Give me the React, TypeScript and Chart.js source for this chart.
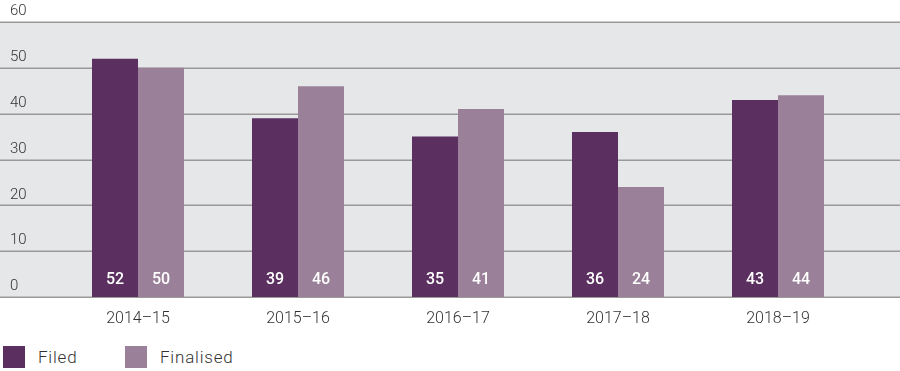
import React, { useEffect, useRef } from "react";
import { Chart, registerables } from "chart.js";

Chart.register(...registerables);

const categories = ["2014–15", "2015–16", "2016–17", "2017–18", "2018–19"];
const filed = [52, 39, 35, 36, 43];
const finalised = [50, 46, 41, 24, 44];
const yTicks = [0, 10, 20, 30, 40, 50, 60];
const seriesNames = ["Filed", "Finalised"];
const colors = ["#5b2f5f", "#9a8098"];

const FONT = "Roboto, 'Noto Sans', sans-serif";

const bgPlugin = {
  id: "bgGrid",
  beforeDraw(chart: any) {
    const { ctx, scales, width } = chart;
    const y = scales.y;
    const top = y.getPixelForValue(60);
    const bottom = y.getPixelForValue(0);
    ctx.save();
    ctx.fillStyle = "#e6e7e9";
    ctx.fillRect(0, top, width, bottom - top);
    ctx.strokeStyle = "#999999";
    ctx.lineWidth = 1.5;
    yTicks.forEach((v) => {
      const py = Math.round(y.getPixelForValue(v)) + 0.25;
      ctx.beginPath();
      ctx.moveTo(0, py);
      ctx.lineTo(width, py);
      ctx.stroke();
    });
    ctx.fillStyle = "#333333";
    ctx.font = `300 15px ${FONT}`;
    ctx.textAlign = "left";
    ctx.textBaseline = "bottom";
    yTicks.forEach((v) => {
      const py = y.getPixelForValue(v);
      ctx.fillText(String(v), 10, py - 3);
    });
    ctx.restore();
  },
  afterDatasetsDraw(chart: any) {
    const { ctx, scales } = chart;
    const y = scales.y;
    const bottom = y.getPixelForValue(0);
    ctx.save();
    ctx.fillStyle = "#ffffff";
    ctx.font = `500 16px ${FONT}`;
    ctx.textAlign = "center";
    ctx.textBaseline = "middle";
    chart.data.datasets.forEach((ds: any, i: number) => {
      const meta = chart.getDatasetMeta(i);
      meta.data.forEach((bar: any, j: number) => {
        ctx.fillText(String(ds.data[j]), bar.x, bottom - 17);
      });
    });
    ctx.restore();
  },
};

export default function App() {
  const ref = useRef<HTMLCanvasElement | null>(null);

  useEffect(() => {
    document.body.style.margin = "0";
    const chart = new Chart(ref.current as HTMLCanvasElement, {
      type: "bar",
      data: {
        labels: categories,
        datasets: [
          { label: seriesNames[0], data: filed, backgroundColor: colors[0], borderWidth: 0 },
          { label: seriesNames[1], data: finalised, backgroundColor: colors[1], borderWidth: 0 },
        ],
      },
      options: {
        animation: false,
        responsive: false,
        maintainAspectRatio: false,
        layout: { padding: { left: 58, right: 42, top: 22, bottom: 0 } },
        datasets: { bar: { categoryPercentage: 0.575, barPercentage: 1 } } as any,
        plugins: { legend: { display: false }, tooltip: { enabled: false } },
        scales: {
          y: {
            display: false,
            min: 0,
            max: 60,
          },
          x: {
            grid: { display: false, drawTicks: false },
            border: { display: false },
            ticks: { color: "#333333", font: { family: FONT, size: 16, weight: "300" as any }, padding: 12 },
            afterFit: (s: any) => {
              s.height = 38;
            },
          },
        },
      },
      plugins: [bgPlugin],
    });
    return () => chart.destroy();
  }, []);

  return (
    <div style={{ width: 900, height: 371, position: "relative", background: "#fff" }}>
      <canvas ref={ref} width={900} height={335} style={{ display: "block", width: 900, height: 335 }} />
      <div style={{ position: "absolute", top: 346, left: 3, display: "flex", alignItems: "center", fontFamily: FONT, fontSize: 17, fontWeight: 300, color: "#333" }}>
        {seriesNames.map((n, i) => (
          <div key={n} style={{ display: "flex", alignItems: "center", width: i === 0 ? 122 : 150 }}>
            <span style={{ display: "inline-block", width: 22, height: 22, background: colors[i], marginRight: 13 }} />
            <span style={{ letterSpacing: 0.8 }}>{n}</span>
          </div>
        ))}
      </div>
    </div>
  );
}
